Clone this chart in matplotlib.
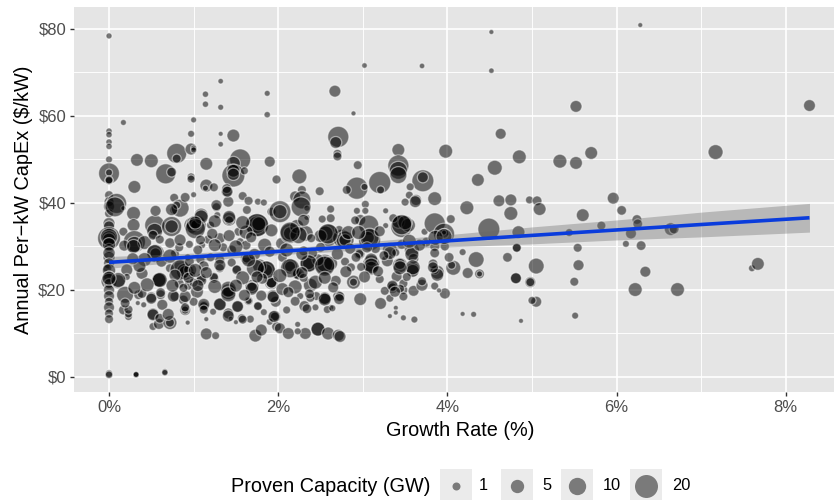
import numpy as np
import matplotlib
matplotlib.use("Agg")
import matplotlib.pyplot as plt
from matplotlib.patches import Rectangle

plt.rcParams["font.family"] = ["Liberation Sans", "DejaVu Sans"]

# (growth %, capex $/kW, proven capacity GW)
zero_column = [
    (0, 78.4, .3), (0, 56.5, .4), (0, 55.7, .4), (0, 54, .4), (0, 53, .4), (0, 50, .6),
    (0, 46.8, 16), (0, 47, .6), (0, 45.1, 1), (0, 45.3, 1), (0, 41.8, 1.5), (0, 40.3, 2),
    (0, 39.2, 3), (0, 37.6, 1.5), (0, 35.3, 3.7), (0, 34.6, 3), (0, 31.9, 20), (0, 31.9, 7),
    (0, 31.6, 4.6), (0, 32.2, 10), (0, 29.6, 2), (0, 30.5, 5), (0, 27.5, 3.7), (0, 28.5, 4),
    (0, 26.1, 2.9), (-.02, 25, 1.5), (0, 24.5, 5), (0, 23.1, 2.9), (0, 22, 8), (0, 21.5, 2),
    (0, 20, 3), (0, 18.6, 2.9), (0, 17.3, 1.5), (0, 16, 2.9), (0, 14.6, 1.5), (0, 13.3, 1.5),
    (0, .8, .8), (0, .5, .8), (.32, .5, .3), (.32, .5, .3), (.32, .6, .3), (.66, 1.2, .4),
    (.66, 1, .4),
]

near_zero = [
    (.17, 58.5, .3), (.33, 49.9, 4.6), (.5, 49.7, 5.7), (.3, 43.7, 4.6), (.09, 39.9, 14.5),
    (.17, 38.8, .1), (.17, 33.4, 1.5), (.11, 21.9, 5.7), (.29, 37.6, 5.7), (.29, 34.9, 4.6),
    (.3, 31.1, 18.4), (.3, 30.5, 8), (.18, 30.2, 2.9), (.42, 30.9, 5.7), (.54, 34.9, 14.5),
    (.54, 33.5, 8), (.52, 32.6, 2), (.6, 31.6, 1.5), (.55, 28.4, 11), (.55, 28.4, 3),
    (.21, 24.6, 3.7), (.21, 23, .6), (.39, 23.8, 3.7), (.59, 22.3, 6.9), (.59, 22.3, 5.7),
    (.19, 18.9, 9.6), (.35, 18.9, 2), (.5, 18.3, 2.9), (.61, 18.9, 2), (.17, 15.4, 2),
    (.23, 13.9, 1), (.23, 14.5, 1), (.41, 16.6, .3), (.34, 17, .1), (.63, 16.6, 2.9),
    (.52, 14.5, 3.7), (.52, 11.6, 1), (.59, 12.2, 2.9), (.72, 12.5, 5.7), (.72, 12.5, 1.5),
    (.93, 12.5, .1), (.8, 51.4, 14.5), (.8, 50.2, 1.5), (.67, 46.7, 14.5), (.74, 47.1, 2),
    (.97, 55.9, .6), (.97, 52.4, 3.7), (1, 52.6, .3), (1, 52.2, .3), (1, 59.1, .3),
    (.97, 46, 1), (.97, 45.5, 1), (1, 41.9, .3), (.77, 41.2, 1.5), (.77, 38.4, 1.5),
    (.84, 38.8, 11), (.8, 39.5, 1), (.74, 34.6, 14.5), (.74, 34.6, 5), (.98, 34.9, 8),
    (.98, 34.9, 3), (.78, 18.5, 2), (.9, 15.4, 2.9), (.9, 15.4, 1), (.88, 17.7, 2),
    (.85, 25.5, 5.7), (.9, 24.2, 9.6), (.9, 24.2, 4), (.94, 21.1, 2), (.98, 23.5, .6),
    (.83, 21.5, 2), (.62, 26.5, 2.9), (.72, 25, 1.5), (.78, 28.4, 1.5), (.93, 27.5, .6),
    (.83, 29.8, 1.5), (.95, 30.5, 1), (.72, 30.8, 2.5), (.84, 31.5, 3.7),
]

one_to_two = [
    (1.32, 68, .2), (1.14, 65, .4), (1.14, 62.7, .4), (1.32, 62, .3), (1.87, 65.2, .3),
    (1.87, 60.3, .4), (1.32, 55.9, .1), (1.32, 53.5, .2), (1.47, 55.5, 4.6), (1.15, 49, 4.6),
    (1.15, 44, 4.6), (1.14, 43.4, .3), (1.24, 43.6, 1.5), (1.55, 50, 16.4), (1.47, 49.1, 5.7),
    (1.47, 46.3, 20), (1.47, 47.4, 4.6), (1.47, 46.6, 4), (1.6, 47.4, 1), (1.39, 42.6, 2.9),
    (1.39, 43.3, 2), (1.9, 49.5, 2.9), (1.58, 41.6, 1.5), (1.03, 34.9, 14.5), (1.03, 34.9, 2.9),
    (1.42, 36.3, 5.7), (1.42, 36, 1.5), (1.2, 34.9, 1), (1.27, 39, 1.5), (1.09, 37.2, 5.7),
    (1.28, 37.2, .6), (1.41, 40.3, 2.9), (1.4, 42.6, 2.9), (1.63, 38.4, 1.5), (1.76, 40.3, .6),
    (1.83, 40.1, .6), (1.92, 38, 1.5), (1.31, 31.9, 2.9), (1.17, 31.6, 1.5), (1.1, 30.3, .6),
    (1.53, 33.4, 1.5), (1.55, 31.1, 1), (1.35, 29.8, 1.5), (1.75, 34.9, 20), (1.75, 35, 10),
    (1.77, 35.2, 5.7), (1.84, 30.3, 5.7), (1.63, 27.3, 4.6), (1.63, 27.3, 2), (1.86, 24.6, 11),
    (1.86, 24.6, 4), (1.78, 25.5, 5.7), (1.51, 24.8, 1.5), (1.31, 26.9, 2), (1.31, 25, 1.5),
    (1.08, 27, 1.5), (.96, 24.6, 4.6), (1.24, 22.7, 2), (1.09, 22.7, 2), (1.41, 19.6, 8),
    (1.41, 19.6, 3), (1.69, 20.8, 5.7), (1.69, 20.8, 2), (1.92, 21.7, 5.7), (1.92, 21.7, 2.9),
    (1.04, 19.6, 4.6), (1.12, 16.3, 2.9), (1.12, 16.3, 1.5), (1.31, 16.7, 3.7), (1.65, 17.5, 1.5),
    (1.65, 17.5, .6), (1.52, 16.2, 2.9), (1.76, 16.3, 1), (1.97, 17.3, 2.9), (1.94, 18.6, 4.6),
    (1.41, 14.6, 2.9), (1.57, 13.5, 1.5), (1.67, 13.3, 1), (1.44, 13.4, .1), (1.5, 12.6, .1),
    (1.15, 13.3, .1), (1.83, 14.9, .6), (1, 17.3, 1.5), (1.23, 15, .6), (1.15, 9.9, 3.7),
    (1.26, 9.5, 1), (1.73, 9.5, 4.6), (1.8, 10.8, 3.7), (1.96, 13.9, 3.7), (1.96, 13.9, 1.5),
    (1.98, 11.6, 2), (1.9, 12.7, .6), (1.12, 25.5, 2.5), (1.2, 27.5, 1.5), (1.45, 29.2, 2),
    (1.72, 28.2, 3.7), (1.9, 28.8, 3), (1.62, 30.3, 2), (1.45, 26.3, 1.5), (1.05, 29.2, 2),
]

two_to_three = [
    (2.67, 65.7, 3.7), (2.89, 60.6, .1), (3.02, 71.6, .2), (2.71, 55.2, 16.4), (2.68, 53.9, 3.7),
    (2.7, 51.3, 1.5), (2.7, 50.7, 1.5), (1.98, 45.4, 1.5), (2.25, 46.1, 6.9), (2.28, 43, 1.5),
    (2.49, 42.7, 1.5), (2.2, 41.5, 2.9), (2.28, 40.7, 11), (2.02, 38, 18), (2.04, 30.7, 3.7),
    (2.14, 33, 14.5), (2.14, 33, 5), (2.22, 34.6, 5.7), (2.14, 25.4, 6.9), (2.14, 25.4, 2.9),
    (2.22, 23.7, 2.9), (2.22, 23.7, 1.5), (2.1, 15.4, 1), (2.02, 11.2, 2.9), (2.12, 10, 3.7),
    (2.34, 38.8, .3), (2.34, 36.7, .3), (2.62, 38.6, 1), (2.62, 36.5, 1.5), (2.52, 36.3, 1),
    (2.59, 32.6, 18.4), (2.56, 33, 6.9), (2.75, 31.9, 11), (2.72, 33.8, 1.5), (2.5, 32.4, 4.6),
    (2.32, 33, 8), (2.24, 32.6, 9.6), (2.39, 31.9, 1.5), (2.36, 26.1, 11), (2.36, 26.1, 4),
    (2.55, 25.9, 14.5), (2.55, 25.9, 8), (2.62, 26.1, 5.7), (2.47, 26.9, 3.7), (2.24, 23.7, 3.7),
    (2.68, 22.1, 2.9), (2.38, 21.1, 5.7), (2.26, 18.6, .6), (2.55, 18.1, 4.6), (2.55, 18.1, 4),
    (2.71, 18.6, 2.9), (2.45, 18.6, 1.5), (2.31, 16.3, 2.9), (2.44, 16, .6), (2.62, 16, .3),
    (2.38, 18.2, 1.5), (2.47, 11, 5.7), (2.47, 11, 5.7), (2.32, 10, 3.7), (2.59, 10, 4.6),
    (2.71, 9.6, 3.7), (2.23, 12.1, .3), (2.23, 10.5, .6), (2.94, 48.7, 1.5), (2.93, 43.4, 18.4),
    (2.81, 43, 1.5), (3.02, 43.7, .6), (2.97, 36.1, 2.9), (2.91, 36, 1.5), (3.03, 39.7, 1),
    (3.03, 38.2, .6), (2.93, 38.2, .6), (2.79, 31.5, 11), (2.79, 31.5, 4), (2.96, 28.3, 2.9),
    (2.96, 28.3, 1.5), (2.79, 26.5, 1.5), (2.86, 25.2, 1.5), (2.89, 21.8, 5.7), (2.89, 21.8, 1),
    (2.97, 17.9, 4.6), (2.73, 18.5, 2), (2.73, 9.3, 3.7), (2.4, 28.5, 2.9), (2.3, 29, 2),
    (2.5, 29.8, 2), (2.7, 28.3, 4), (2.85, 29.5, 3), (2.05, 27.5, 2), (2.3, 22.8, 1.5),
]

three_to_four = [
    (3.7, 71.5, .2), (3.42, 52.2, 4.6), (3.98, 51.9, 5.7), (3.42, 48.6, 16.4), (3.42, 47.5, 11),
    (3.42, 46.4, 9.6), (3.71, 45.1, 18), (3.71, 45.9, 2.9), (3.2, 44.7, 18.4), (3.21, 43, 1),
    (3.56, 43.7, 1), (3.55, 41.8, 1), (3.63, 40.7, 2.9), (3.85, 41, 5.7), (3.62, 40.3, 3.7),
    (3.5, 40.2, 1), (3.07, 34.9, 14.5), (3.27, 38.2, .3), (3.27, 34.8, .3), (3.08, 31.5, 18.4),
    (3.06, 32, 4.6), (3.1, 26.1, 9.6), (3.1, 27, 4.6), (3.1, 25, 5.7), (3.21, 16.9, 3.7),
    (3.46, 34.6, 18.4), (3.42, 35.7, 4.6), (3.54, 34.9, 5.7), (3.5, 35.5, 6), (3.36, 36.5, 1.5),
    (3.73, 33.4, .6), (3.85, 35.3, 16.4), (3.96, 32.9, 16.4), (3.96, 33, 2), (3.96, 33.2, .1),
    (3.32, 29.2, 6.9), (3.58, 29.2, 6.9), (3.46, 30.5, 2), (3.39, 28.6, 1), (3.29, 26.7, 3.7),
    (3.44, 25.7, 6.9), (3.44, 26, 3), (3.59, 24.7, 5.7), (3.59, 24.4, 4.6), (3.4, 23.1, 2.9),
    (3.35, 20.6, 3.7), (3.35, 20.6, 1.5), (3.26, 19.8, 1.5), (3.48, 20, 1.5), (3.6, 19.8, 2.9),
    (3.7, 21.1, 3.7), (3.32, 18.1, 1), (3.39, 15.9, .1), (3.39, 14.8, .1), (3.32, 14, .1),
    (3.48, 13.6, .3), (3.61, 13.2, .6), (3.48, 21.5, 1.5), (3.44, 20.3, 1.5), (3.48, 18.5, 1.5),
    (3.88, 24.1, 5.7), (3.85, 24.6, 1.5), (3.83, 26, 2), (3.85, 20.9, 1), (3.97, 19.2, 2.9),
    (3.9, 19.9, .1), (3.85, 30, 2), (3.85, 28.5, 2), (3.97, 30, 1.5), (3.6, 27.2, 2.5),
    (3.2, 22.5, 1.5), (3.15, 29.5, 2), (3.75, 31, 2),
]

above_four = [
    (4.52, 79.3, .1), (4.52, 70.4, .2), (6.28, 80.9, .1), (8.28, 62.4, 3.7), (7.17, 51.7, 6.9),
    (5.52, 62.2, 3.7), (4.63, 55.9, 2.9), (4.85, 50.6, 5.7), (5.33, 49.6, 5.7), (5.52, 49.2, 4.6),
    (5.7, 51.5, 4.6), (4.56, 48.1, 6.9), (4.36, 45.3, 4.6), (4.61, 40.5, 3.7), (4.75, 40.7, 3.7),
    (4.75, 37.6, 5.7), (4.97, 40.7, 1), (5.06, 40.5, 2), (5.09, 38.6, 4.6), (5.6, 37.2, 4.6),
    (5.82, 34.8, 1.5), (5.96, 41.1, 3.7), (6.06, 38.3, 2), (6.24, 36.2, 2), (6.25, 35.2, 2),
    (6.17, 33, 2.9), (6.11, 30.6, .6), (6.29, 30.2, 2), (6.34, 24.2, 2.9), (6.22, 20.1, 5.7),
    (6.72, 20.1, 5.7), (6.64, 34, 4.6), (6.68, 34, 2), (7.6, 25, .6), (7.67, 26, 4.6),
    (4.23, 38.9, 5.7), (4.49, 34, 18), (4.84, 33.3, 4.6), (5.44, 33.2, 1), (5.54, 29.7, 1.5),
    (5.55, 25.7, 2.9), (5.5, 21.9, 1.5), (5.51, 14.1, .6), (5.05, 25.5, 8), (4.82, 29.7, 1.5),
    (4.82, 29.7, 1.5), (4.81, 22.7, 2.9), (4.81, 22.7, 2.9), (4.98, 21.8, 2.9), (4.98, 21.8, 1.5),
    (4.71, 27.5, 2), (5.05, 17.3, 2.9), (5, 17.6, 1), (4.87, 12.9, .1), (4.31, 14.4, .3),
    (4.18, 14.5, .1), (4.34, 27, 8), (4.18, 28.7, .6), (4.24, 23.9, 2.9), (4.38, 23.7, 2),
    (4.38, 23.7, .3), (4.04, 36.3, 1.5), (4.07, 25.1, 6.9), (4.05, 25.7, 1),
]

# second pass over the dense part of the cloud
dense_low = [
    (.07, 39.1, 14), (1.09, 36.8, 5.7), (1.02, 34.1, 14.5), (1.02, 35.5, 4.6), (.29, 30, 5.7),
    (.54, 28.6, 8), (.84, 24.6, 14.5), (.95, 26.5, 2), (.78, 23.4, 3.7), (.6, 22.3, 6.9),
    (.11, 22.3, 6.9), (0, 22.7, 5.7), (.39, 19.2, 2), (.61, 19.4, 2), (.5, 18, 2.9),
    (.76, 18.6, 3.7), (.9, 18.5, 3.7), (.9, 16, 1.5), (1.12, 16.7, 3.7), (1.12, 15.5, 1.5),
    (1.31, 16.7, 4.6), (1.41, 20.2, 8), (1.41, 19, 6.9), (1.69, 20.3, 4.6), (1.09, 22.2, 2.9),
    (1.24, 23, 1.5), (1, 21.7, 1.5), (.94, 22.8, 2.9), (.88, 20.5, 1.5), (.52, 14.3, 3.7),
    (.6, 13.5, 2), (.7, 14.4, 3.7), (.23, 15.5, 1.5), (.19, 17, 2), (1.52, 16.2, 3.7),
    (1.41, 14, 3.7), (1.58, 13.2, 1.5), (1.76, 16.3, 1.5), (1.95, 13.9, 3.7), (1.94, 18.4, 3.7),
    (1.92, 21.7, 2.9), (1.86, 24.6, 11), (1.73, 25, 11), (1.75, 34.9, 20), (2.02, 38, 6),
    (2.27, 39.1, 14), (2.14, 33.3, 14.5), (2.36, 26.1, 9.6), (2.59, 32.9, 14.5), (2.55, 25.5, 14.5),
    (2.14, 25, 12.8), (2.28, 24, 3.7), (2.37, 19.1, 2), (2.44, 21.8, 5.7), (2.55, 17.8, 4.6),
    (2.2, 17.4, 2), (2.34, 15.7, 2), (2.58, 15.5, 1), (2.64, 15.8, .6), (2.72, 17.9, 2.9),
    (.74, 38.5, 4), (.9, 41.3, 2), (1.42, 36.8, 4.6), (1.27, 39.5, 2.9), (1.65, 40.5, 1.5),
    (1.62, 33.3, 5.7), (1.65, 26.9, 5.7), (1.31, 25.7, 3.7), (1.51, 24.6, 2), (1.81, 22.6, 2.9),
    (1.22, 32.9, 3), (1.42, 32.5, 3.7), (1.68, 32.1, 2.9), (1.92, 33.7, 4.6), (1.08, 31.5, 2),
]

dense_high = [
    (3.46, 35, 14.5), (3.08, 32, 12.8), (2.83, 33.2, 5.7), (3.2, 33.5, 2.9), (3.05, 29.8, 2.9),
    (3.1, 25.5, 8), (2.92, 27.5, 2), (3.32, 28.5, 4.6), (3.58, 28.2, 5.7), (3.59, 25.2, 6.9),
    (3.44, 25.1, 5.7), (3.35, 21, 2.9), (3.38, 19.6, 2.9), (3.7, 22, 1.5), (3.52, 23, 1.5),
    (3.88, 23.5, 4.6), (3.83, 25.2, 2.9), (4.02, 27.5, 2), (3.67, 30.3, 3.7), (3.86, 32, 6.9),
    (3.96, 32.3, 8), (2.98, 25.3, 1.5), (3.25, 27.9, 2),
]

# third pass, the paler mid sized bubbles between the dark ones
pale_mid = [
    (.42, 27, 5.7), (.72, 27.8, 5.7), (.36, 25.5, 4.6), (.28, 27.2, 3.7), (.45, 21.2, 5.7),
    (.3, 20.5, 4.6), (.75, 21, 4.6), (1.02, 24.5, 5.7), (1.15, 24, 3.7), (1.25, 20.8, 5.7),
    (1.05, 21, 3.7), (1.58, 22.8, 5.7), (1.5, 21, 4.6), (1.75, 23, 3.7), (2.02, 23.3, 5.7),
    (2.05, 20.2, 4.6), (2.2, 20.7, 5.7), (2.12, 19.5, 2.9), (1.6, 18.8, 3.7), (1.8, 18.7, 2.9),
    (1.25, 30.3, 4.6), (1.5, 29.9, 5.7), (2.55, 22.8, 4.6), (2.65, 20.6, 2.9), (2.1, 29.2, 5.7),
    (2.28, 28.2, 3.7), (2.8, 24.2, 3.7), (3.02, 23, 3.7), (3.18, 24.3, 2.9), (3.55, 31.2, 5.7),
    (1.25, 35.8, 4.6), (1.58, 35.5, 5.7), (2.3, 36, 3.7), (2.95, 33.2, 5.7), (.55, 38.2, 2.9),
]

fit_x = [0, 1, 2, 3, 4, 5, 6, 7, 8.28]
fit_y = [26.35, 27.6, 28.85, 30.1, 31.3, 32.55, 33.8, 35.05, 36.6]
fit_lo = [25.0, 26.7, 28.1, 29.2, 29.9, 30.6, 31.5, 32.2, 33.3]
fit_hi = [27.7, 28.5, 29.6, 31.0, 32.7, 34.5, 36.1, 37.9, 39.9]

legend_gw = [1, 5, 10, 20]
legend_names = ["1", "5", "10", "20"]


def radius_px(gw):
    # ggplot area scale as measured from the legend keys
    return 1.84 + 2.16 * np.sqrt(gw)


def marker_area(gw):
    return (2 * radius_px(gw) * 0.72) ** 2


W, H = 834, 500
fig = plt.figure(figsize=(W / 100, H / 100), dpi=100)
ax = fig.add_axes([74 / W, 1 - 392 / H, (834 - 74) / W, (392 - 7) / H])
ax.set_facecolor("#e5e5e5")
for s in ax.spines.values():
    s.set_visible(False)

ax.set_xlim(-0.414, 8.57)
ax.set_ylim(-3.45, 85.05)
ax.set_xticks([0, 2, 4, 6, 8])
ax.set_xticklabels(["0%", "2%", "4%", "6%", "8%"])
ax.set_yticks([0, 20, 40, 60, 80])
ax.set_yticklabels(["$0", "$20", "$40", "$60", "$80"])
ax.set_xticks([1, 3, 5, 7], minor=True)
ax.set_yticks([10, 30, 50, 70], minor=True)
ax.grid(True, which="major", color="white", linewidth=1.2)
ax.grid(True, which="minor", color="white", linewidth=0.65)
ax.set_axisbelow(True)
ax.tick_params(which="minor", length=0)
ax.tick_params(which="major", length=3.2, width=1, color="#333333",
               labelcolor="#4d4d4d", labelsize=12, pad=2.5)
ax.set_xlabel("Growth Rate (%)", fontsize=14.3)
ax.xaxis.set_label_coords((460 - 74) / (834 - 74), -(430.5 - 392) / (392 - 7), transform=ax.transAxes)
ax.xaxis.label.set_verticalalignment("center")
ax.set_ylabel("Annual Per\u2212kW CapEx ($/kW)", fontsize=14.3, labelpad=4)

pts = np.array(zero_column + near_zero + one_to_two + two_to_three + three_to_four
               + above_four + dense_low + dense_high + pale_mid)
ax.scatter(pts[:, 0], pts[:, 1], s=marker_area(pts[:, 2]), facecolor=(0, 0, 0, 0.52),
           edgecolor=(1, 1, 1, 0.5), linewidth=0.9, zorder=3)

ax.fill_between(fit_x, fit_lo, fit_hi, color="#666666", alpha=0.35, linewidth=0, zorder=4)
ax.plot(fit_x, fit_y, color="#0a3cdc", linewidth=2.6, solid_capstyle="butt", zorder=5)

# legend, laid out in figure pixels
lg = fig.add_axes([0, 0, 1, 1], facecolor="none")
lg.set_xlim(0, W)
lg.set_ylim(H, 0)
lg.axis("off")
lg.text(231, 486, "Proven Capacity (GW)", fontsize=14.3, va="center", ha="left")
key_left = [440, 501, 561, 630]
label_left = [479, 542, 603, 672]
for gw, name, kx, tx in zip(legend_gw, legend_names, key_left, label_left):
    lg.add_patch(Rectangle((kx, 469), 32, 31, facecolor="#ebebeb", edgecolor="none", clip_on=False))
    lg.scatter([kx + 16], [486], s=marker_area(gw), color="#7a7a7a", linewidth=0)
    lg.text(tx, 486, name, fontsize=11.8, va="center", ha="left")

fig.savefig("out.png", dpi=100)
